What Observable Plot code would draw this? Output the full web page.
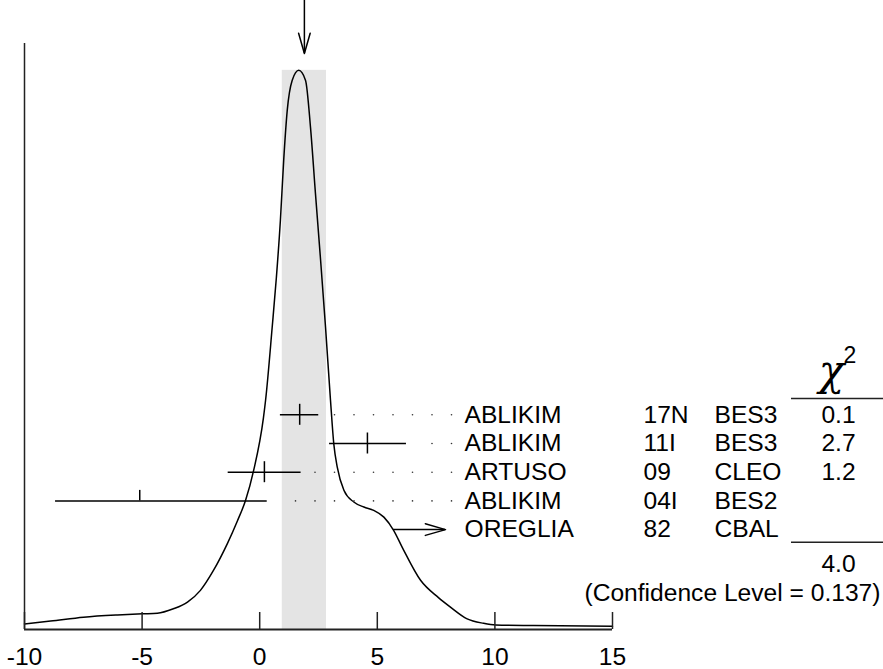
<!DOCTYPE html>
<html><head><meta charset="utf-8">
<script src="https://cdn.jsdelivr.net/npm/d3@7"></script>
<script src="https://cdn.jsdelivr.net/npm/@observablehq/plot@0.6"></script>
<style>html,body{margin:0;padding:0;background:#fff;}</style>
</head><body><div id="chart"></div>
<script>
// ---- data ----
const authors = ["ABLIKIM", "ABLIKIM", "ARTUSO", "ABLIKIM", "OREGLIA"];
const years = ["17N", "11I", "09", "04I", "82"];
const experiments = ["BES3", "BES3", "CLEO", "BES2", "CBAL"];
const values = [1.70, 4.58, 0.20, -5.10, null];
const errLow = [0.88, 2.97, -1.34, -8.68, null];
const errHigh = [2.51, 6.24, 1.76, 0.32, null];
const limitValues = [null, null, null, null, 5.69];
const chi2 = ["0.1", "2.7", "1.2", null, null];
const chi2Total = ["4.0"];
const confidenceLevel = ["(Confidence Level = 0.137)"];
const average = [1.90];
const averageError = [0.94];
const xTicks = [-10, -5, 0, 5, 10, 15];
const curveX = [-10.00,-8.89,-7.49,-6.05,-4.98,-4.35,-3.67,-3.07,-2.52,-1.96,-1.37,-0.94,-0.60,-0.26,0.16,0.25,0.53,0.71,0.88,1.02,1.17,1.38,1.66,1.95,2.16,2.37,2.59,2.80,3.01,3.15,3.30,3.58,4.00,4.43,4.85,5.28,5.70,6.06,6.84,7.60,8.11,8.82,9.52,10.03,11.64,15.0];
const curveY = [0.010,0.015,0.022,0.026,0.028,0.029,0.037,0.049,0.070,0.106,0.154,0.195,0.231,0.284,0.379,0.410,0.540,0.630,0.732,0.839,0.928,0.982,1.000,0.982,0.898,0.780,0.660,0.540,0.410,0.332,0.290,0.249,0.228,0.219,0.213,0.201,0.177,0.147,0.088,0.057,0.040,0.019,0.011,0.008,0.007,0.006];

// ---- layout ----
const W = 883, H = 669;
const mL = 24, mR = 271, mT = 43, mB = 40;
const xDomain = [-10, 15];
const yDomain = [0, 1.048];
const kx = (W - mL - mR) / (xDomain[1] - xDomain[0]);
const ky = (H - mT - mB) / (yDomain[1] - yDomain[0]);
const yPx = (px) => (H - mB - px) / ky;          // pixel row -> y value
const xPx = (px) => xDomain[0] + (px - mL) / kx; // pixel column -> x value
const frameH = H - mT - mB;
const rowTop = yPx(414.3), rowStep = 28.7 / ky;
const FONT = "'Liberation Sans', Arial, Helvetica, sans-serif";
const FS = 24.6;

const rows = authors.map((a, i) => ({
  author: a, year: years[i], exp: experiments[i],
  value: values[i], lo: errLow[i], hi: errHigh[i],
  limit: limitValues[i], chi2: chi2[i],
  y: rowTop - i * rowStep
}));
const meas = rows.filter(d => d.value != null);
const lims = rows.filter(d => d.limit != null);

const curve = curveX.map((x, i) => ({x, y: curveY[i]}));
const peak = d3.max(curveY);

// dotted leaders
const dotStart = 1.522, dotStep = 19.5 / kx, dotEnd = 8.3;
const dots = [];
for (const d of meas) {
  for (let x = dotStart; x <= dotEnd; x += dotStep) {
    if (x > d.hi + 7 / kx) dots.push({x, y: d.y});
  }
}

// error-bar ticks (half tick for values not in the fit)
const tickHalf = 10.5 / ky;
const ticks = meas.map(d => ({x: d.value, y1: d.chi2 == null ? d.y : d.y - tickHalf, y2: d.y + tickHalf}));

// arrow heads
const headLen = 21, headHalf = 16 * Math.PI / 180;
const hx = headLen * Math.cos(headHalf), hy = headLen * Math.sin(headHalf);
const avg = average[0];
const topTip = yPx(53), topTail = yPx(0);
const heads = [];
heads.push({g: "top", x: avg - hy / kx, y: topTip + hx / ky});
heads.push({g: "top", x: avg, y: topTip});
heads.push({g: "top", x: avg + hy / kx, y: topTip + hx / ky});
const limLen = 52 / kx;
const limArrows = lims.map(d => ({x1: d.limit, x2: d.limit + limLen, y: d.y}));
for (const a of limArrows) {
  heads.push({g: "lim" + a.y, x: a.x2 - hx / kx, y: a.y + hy / ky});
  heads.push({g: "lim" + a.y, x: a.x2, y: a.y});
  heads.push({g: "lim" + a.y, x: a.x2 - hx / kx, y: a.y - hy / ky});
}

const chiLines = [{y: yPx(398)}, {y: yPx(541.7)}];

const plot = Plot.plot({
  width: W, height: H,
  marginLeft: mL, marginRight: mR, marginTop: mT, marginBottom: mB,
  x: {domain: xDomain, axis: null},
  y: {domain: yDomain, axis: null},
  style: {fontFamily: FONT, fontSize: FS + "px", background: "white", color: "black"},
  marks: [
    Plot.rect(average, {x1: d => d - averageError[0], x2: d => d + averageError[0], y1: 0, y2: peak, fill: "#e4e4e4"}),
    Plot.line(curve, {x: "x", y: "y", curve: "monotone-x", stroke: "black", strokeWidth: 1.5}),
    Plot.ruleY([0], {stroke: "#222", strokeWidth: 2}),
    Plot.ruleX([xDomain[0]], {stroke: "#222", strokeWidth: 1.5}),
    Plot.ruleX(xTicks, {x: d => d, insetTop: frameH - 17, stroke: "#222", strokeWidth: 1.5}),
    Plot.axisX(xTicks, {tickSize: 0, tickPadding: 18, tickFormat: d => String(d), fontSize: FS, label: null}),
    // measurements
    Plot.ruleY(meas, {y: "y", x1: "lo", x2: "hi", stroke: "black", strokeWidth: 1.5}),
    Plot.ruleX(ticks, {x: "x", y1: "y1", y2: "y2", stroke: "black", strokeWidth: 1.5}),
    Plot.dot(dots, {x: "x", y: "y", r: 0.8, fill: "#333", stroke: null}),
    Plot.ruleY(limArrows, {y: "y", x1: "x1", x2: "x2", stroke: "black", strokeWidth: 1.5}),
    // average arrow
    Plot.ruleX(average, {x: d => d, y1: topTail, y2: topTip, stroke: "black", strokeWidth: 1.5}),
    Plot.line(heads, {x: "x", y: "y", z: "g", stroke: "black", strokeWidth: 1.5, curve: "linear"}),
    // labels
    Plot.text(rows, {y: "y", text: "author", frameAnchor: "right", dx: -148, textAnchor: "start", fontSize: FS}),
    Plot.text(rows, {y: "y", text: "year", frameAnchor: "right", dx: 31, textAnchor: "start", fontSize: FS}),
    Plot.text(rows, {y: "y", text: "exp", frameAnchor: "right", dx: 102, textAnchor: "start", fontSize: FS}),
    Plot.text(rows.filter(d => d.chi2 != null), {y: "y", text: "chi2", frameAnchor: "right", dx: 226, textAnchor: "middle", fontSize: FS}),
    Plot.ruleY(chiLines, {y: "y", x1: xPx(791), x2: xPx(883), stroke: "#222", strokeWidth: 1.5}),
    Plot.text(["χ"], {text: d => d, frameAnchor: "top-right", dx: 219, dy: 384 - mT, lineAnchor: "bottom", textAnchor: "middle", fontSize: 42, fontFamily: "'DejaVu Serif', serif", fontStyle: "italic"}),
    Plot.text(["2"], {text: d => d, frameAnchor: "top-right", dx: 231, dy: 362 - mT, lineAnchor: "bottom", textAnchor: "start", fontSize: 23}),
    Plot.text(chi2Total, {text: d => d, frameAnchor: "top-right", dx: 226, dy: 571 - mT, lineAnchor: "bottom", textAnchor: "middle", fontSize: FS}),
    Plot.text(confidenceLevel, {text: d => d, frameAnchor: "top-right", dx: 268, dy: 600 - mT, lineAnchor: "bottom", textAnchor: "end", fontSize: FS})
  ]
});
document.getElementById("chart").append(plot);
</script>
</body></html>
